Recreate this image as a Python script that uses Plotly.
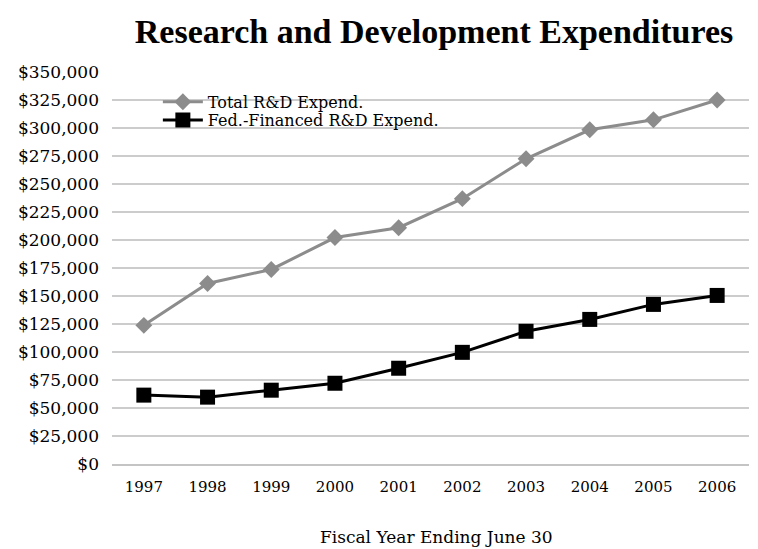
import plotly.graph_objects as go

years = ["1997", "1998", "1999", "2000", "2001", "2002", "2003", "2004", "2005", "2006"]
total_rd = [123800, 161200, 173700, 202200, 211000, 236900, 272500, 298400, 307300, 325000]
fed_rd = [61500, 59700, 65900, 72100, 85500, 99700, 118500, 129100, 142500, 150500]
y_ticks = list(range(0, 350001, 25000))
y_labels = ["$0"] + ["${:,}".format(v) for v in y_ticks[1:]]

FONT = "DejaVu Serif, Liberation Serif, serif"
TITLE_FONT = "Liberation Serif, DejaVu Serif, serif"

fig = go.Figure()
fig.add_trace(go.Scatter(
    x=years, y=total_rd, mode="lines+markers", name="Total R&D Expend.",
    line=dict(color="#8c8c8c", width=3),
    marker=dict(symbol="diamond", size=13, color="#8c8c8c"),
    legend="legend",
))
fig.add_trace(go.Scatter(
    x=years, y=fed_rd, mode="lines+markers", name="Fed.-Financed R&D Expend.",
    line=dict(color="#000000", width=3),
    marker=dict(symbol="square", size=15, color="#000000"),
    legend="legend2",
))

fig.update_layout(
    width=758, height=549,
    paper_bgcolor="white", plot_bgcolor="white",
    margin=dict(l=104, r=17, t=64, b=93),
    font=dict(family=FONT, color="#000000", size=15),
    title=dict(text="<b>Research and Development Expenditures</b>",
               x=0.562, xanchor="center", y=0.958, yanchor="middle",
               font=dict(size=34, family=TITLE_FONT)),
    showlegend=True,
    legend=dict(x=0.072, y=0.924, xanchor="left", yanchor="middle",
                bgcolor="rgba(0,0,0,0)", font=dict(size=16, family=FONT),
                itemwidth=40),
    legend2=dict(x=0.072, y=0.877, xanchor="left", yanchor="middle",
                 bgcolor="rgba(0,0,0,0)", font=dict(size=16, family=FONT),
                 itemwidth=40),
    xaxis=dict(
        type="category", range=[-0.5, 9.5],
        showgrid=False, showline=True, linecolor="#c4c4c4",
        linewidth=1.5, ticks="", tickfont=dict(size=15), automargin=False,
        ticklabelstandoff=8,
    ),
    yaxis=dict(
        range=[0, 350000], tickvals=y_ticks, ticktext=y_labels,
        showgrid=True, gridcolor="#cccccc", gridwidth=1.5,
        zeroline=False, showline=False, ticks="", tickfont=dict(size=17),
        ticklabelstandoff=12, automargin=False,
    ),
    annotations=[dict(
        text="Fiscal Year Ending June 30", xref="paper", yref="paper",
        x=0.51, y=-0.186, xanchor="center", yanchor="middle", showarrow=False,
        font=dict(size=17, family=FONT),
    )],
)

fig.write_html("out.html")
